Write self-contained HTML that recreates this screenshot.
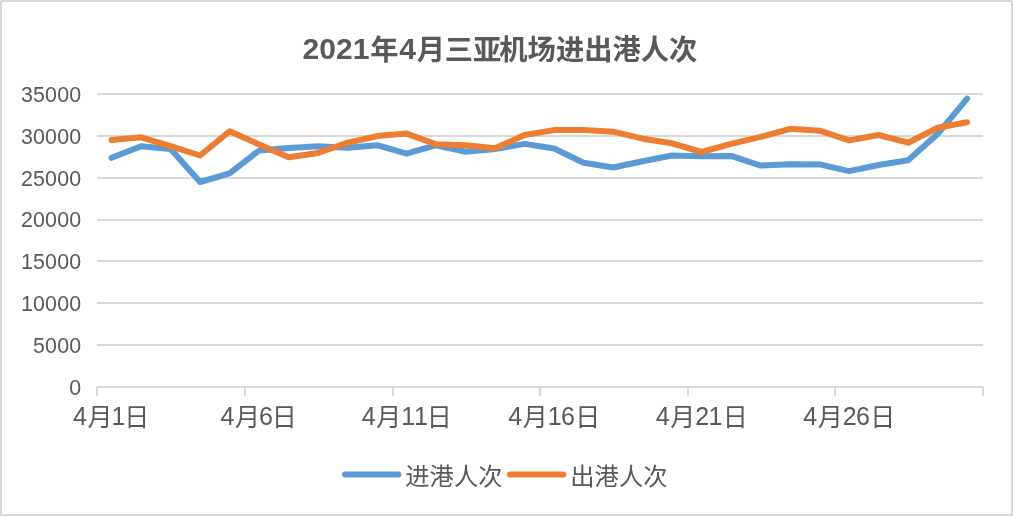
<!DOCTYPE html>
<html lang="zh-CN">
<head>
<meta charset="utf-8">
<title>2021年4月三亚机场进出港人次</title>
<style>
html,body{margin:0;padding:0;background:#fff;}
body{width:1013px;height:516px;overflow:hidden;}
svg{display:block;}
text{font-family:"Liberation Sans","Noto Sans CJK SC",sans-serif;fill:#595959;}
.yl{font-size:21.4px;letter-spacing:0.2px;}
.xd{font-size:25px;}
.xc{font-size:25px;}
.lg{font-size:24.3px;}
.tt{font-weight:bold;}
.td{font-size:30px;}
.tc{font-size:28.3px;}
.ln{fill:none;stroke-width:6;stroke-linecap:round;stroke-linejoin:round;}
</style>
</head>
<body>
<svg width="1013" height="516" viewBox="0 0 1013 516">
<rect x="0" y="0" width="1013" height="516" fill="#ffffff"/>
<rect x="1" y="1" width="1011" height="514" fill="none" stroke="#d9d9d9" stroke-width="2"/>
<rect x="0" y="0" width="1" height="1" fill="#ffffff"/>
<rect x="1012" y="0" width="1" height="1" fill="#ffffff"/>
<text x="500" y="58.8" text-anchor="middle" class="tt"><tspan class="td">2021</tspan><tspan class="tc" dy="0.7" dx="1">年</tspan><tspan class="td" dy="-0.7" dx="0.5">4</tspan><tspan class="tc" dy="0.7" dx="1">月</tspan><tspan class="tc" dx="-0.5">三亚</tspan><tspan class="tc" dx="-2">机场进出港人次</tspan></text>
<rect x="97" y="93" width="886" height="2" fill="#d9d9d9"/>
<rect x="97" y="135" width="886" height="2" fill="#d9d9d9"/>
<rect x="97" y="177" width="886" height="2" fill="#d9d9d9"/>
<rect x="97" y="219" width="886" height="2" fill="#d9d9d9"/>
<rect x="97" y="260" width="886" height="2" fill="#d9d9d9"/>
<rect x="97" y="302" width="886" height="2" fill="#d9d9d9"/>
<rect x="97" y="344" width="886" height="2" fill="#d9d9d9"/>
<rect x="97" y="386" width="886" height="2" fill="#d9d9d9"/>
<rect x="96" y="387" width="2" height="9" fill="#d9d9d9"/>
<rect x="244" y="387" width="2" height="9" fill="#d9d9d9"/>
<rect x="392" y="387" width="2" height="9" fill="#d9d9d9"/>
<rect x="539" y="387" width="2" height="9" fill="#d9d9d9"/>
<rect x="687" y="387" width="2" height="9" fill="#d9d9d9"/>
<rect x="834" y="387" width="2" height="9" fill="#d9d9d9"/>
<rect x="982" y="387" width="2" height="9" fill="#d9d9d9"/>
<text x="81.4" y="101.8" text-anchor="end" class="yl">35000</text>
<text x="81.4" y="143.7" text-anchor="end" class="yl">30000</text>
<text x="81.4" y="185.5" text-anchor="end" class="yl">25000</text>
<text x="81.4" y="227.4" text-anchor="end" class="yl">20000</text>
<text x="81.4" y="269.2" text-anchor="end" class="yl">15000</text>
<text x="81.4" y="311.1" text-anchor="end" class="yl">10000</text>
<text x="81.4" y="352.9" text-anchor="end" class="yl">5000</text>
<text x="81.4" y="394.8" text-anchor="end" class="yl">0</text>
<text x="111.2" y="424.8" text-anchor="middle" class="xl"><tspan class="xd">4</tspan><tspan class="xc" dy="1.3" dx="0.6">月</tspan><tspan class="xd" dy="-1.3" dx="-1">1</tspan><tspan class="xc" dy="1.3" dx="-1.2">日</tspan></text>
<text x="258.7" y="424.8" text-anchor="middle" class="xl"><tspan class="xd">4</tspan><tspan class="xc" dy="1.3" dx="0.6">月</tspan><tspan class="xd" dy="-1.3" dx="-1">6</tspan><tspan class="xc" dy="1.3" dx="-1.2">日</tspan></text>
<text x="406.8" y="424.8" text-anchor="middle" class="xl"><tspan class="xd">4</tspan><tspan class="xc" dy="1.3" dx="0.6">月</tspan><tspan class="xd" dy="-1.3" dx="0 0.8">11</tspan><tspan class="xc" dy="1.3" dx="-1.2">日</tspan></text>
<text x="554.3" y="424.8" text-anchor="middle" class="xl"><tspan class="xd">4</tspan><tspan class="xc" dy="1.3" dx="0.6">月</tspan><tspan class="xd" dy="-1.3" dx="0 -0.8">16</tspan><tspan class="xc" dy="1.3" dx="0.4">日</tspan></text>
<text x="701.8" y="424.8" text-anchor="middle" class="xl"><tspan class="xd">4</tspan><tspan class="xc" dy="1.3" dx="0.6">月</tspan><tspan class="xd" dy="-1.3" dx="0 -0.8">21</tspan><tspan class="xc" dy="1.3" dx="0.4">日</tspan></text>
<text x="849.3" y="424.8" text-anchor="middle" class="xl"><tspan class="xd">4</tspan><tspan class="xc" dy="1.3" dx="0.6">月</tspan><tspan class="xd" dy="-1.3" dx="0 -0.8">26</tspan><tspan class="xc" dy="1.3" dx="0.4">日</tspan></text>
<polyline class="ln" stroke="#5b9bd5" points="111.6,157.8 141.1,146.2 170.6,149.1 200.1,182.0 229.6,173.3 259.1,150.5 288.6,148.1 318.1,146.2 347.6,147.8 377.1,145.2 406.6,153.6 436.1,145.2 465.6,151.8 495.1,149.1 524.6,143.9 554.1,148.5 583.6,162.7 613.1,167.5 642.6,161.3 672.1,155.5 701.6,156.3 731.1,155.9 760.6,165.6 790.1,164.2 819.6,164.4 849.1,171.1 878.6,165.0 908.1,160.2 937.6,134.0 967.1,98.7"/>
<polyline class="ln" stroke="#ed7d31" points="111.6,140.0 141.1,137.3 170.6,146.2 200.1,155.5 229.6,131.3 259.1,144.4 288.6,157.3 318.1,153.0 347.6,142.7 377.1,136.1 406.6,133.6 436.1,144.3 465.6,145.2 495.1,148.3 524.6,135.0 554.1,130.1 583.6,130.1 613.1,131.7 642.6,138.7 672.1,143.3 701.6,152.0 731.1,143.9 760.6,136.9 790.1,128.8 819.6,130.7 849.1,140.4 878.6,135.0 908.1,142.7 937.6,127.8 967.1,122.2"/>
<line class="ln" stroke="#5b9bd5" x1="345" y1="474.5" x2="398.4" y2="474.5"/>
<text x="405.3" y="484.8" class="lg">进港人次</text>
<line class="ln" stroke="#ed7d31" x1="510" y1="474.5" x2="563.4" y2="474.5"/>
<text x="570.3" y="484.8" class="lg">出港人次</text>
</svg>
</body>
</html>
